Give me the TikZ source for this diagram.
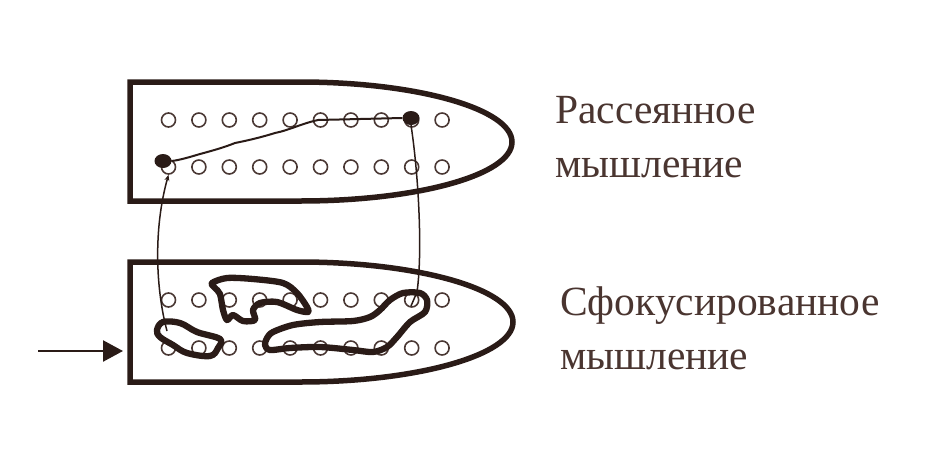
\documentclass[tikz,border=0pt]{standalone}
\usepackage{fontspec}
\setmainfont{Liberation Serif}
\usetikzlibrary{arrows.meta,shapes.geometric}
\definecolor{ink}{HTML}{2A1B17}
\definecolor{txt}{HTML}{4A3530}
\definecolor{ring}{HTML}{4A3834}
\tikzset{
  outline/.style={draw=ink,line width=5.5pt,line join=miter},
  blob/.style={draw=ink,line width=6.3pt,line join=round,line cap=round},
  ringnode/.style={circle,draw=ring,line width=1.6pt,minimum size=14pt,inner sep=0pt},
  spot/.style={ellipse,fill=ink,minimum width=17pt,minimum height=14pt,inner sep=0pt},
  thin/.style={draw=ink,line width=1.5pt},
  label/.style={anchor=base west,inner sep=0pt,text=txt,align=left,font=\fontsize{41.5}{54}\selectfont}
}
\begin{document}
\begin{tikzpicture}[x=1pt,y=-1pt]
\useasboundingbox (0,0) rectangle (926,472);
% shapes
\draw[outline] (130,82) -- (300,82) .. controls (417,82) and (512,109) .. (512,142)
  .. controls (512,175) and (417,201) .. (300,201) -- (130,201) -- cycle;
\draw[outline] (130,262) -- (300,262) .. controls (417,262) and (513,289) .. (513,322)
  .. controls (513,355) and (417,382) .. (300,382) -- (130,382) -- cycle;
% rings
\foreach \i in {1,...,10}{
  \pgfmathsetmacro{\xx}{168.5+30.4*(\i-1)}
  \node[ringnode] (a\i) at (\xx,120) {};
  \node[ringnode] (b\i) at (\xx,167) {};
  \node[ringnode] (c\i) at (\xx,300) {};
  \node[ringnode] (d\i) at (\xx,348) {};
}
% spots
\node[spot] (s1) at (163,161) {};
\node[spot] (s2) at (411,118) {};
% diffuse path
\draw[thin,line width=2pt] (s1.east) .. controls (180,160) and (190,157) .. (200,154)
  .. controls (215,150) and (225,147) .. (235,143)
  .. controls (250,140) and (262,137) .. (275,133)
  .. controls (290,130) and (300,124) .. (318,120) -- (s2.west);
% blobs
\draw[blob] plot[smooth cycle,tension=0.6] coordinates {(157,330) (163,322) (180,323) (197,332) (220,339) (218,348) (210,356) (187,353) (173,345) (160,337)};
\draw[blob] plot[smooth cycle,tension=0.5] coordinates {(212,283) (227,278) (253,279) (283,283) (297,293) (307,307) (308,312) (297,310) (277,302) (260,303) (253,310) (255,320) (243,321) (233,315) (227,320) (223,310) (220,294) (215,288)};
\draw[blob] plot[smooth cycle,tension=0.5] coordinates {(267,338) (273,332) (293,325) (320,322) (353,321) (370,317) (380,310) (390,300) (403,293) (420,293) (427,300) (425,312) (410,322) (397,337) (387,347) (373,352) (353,350) (320,347) (290,348) (270,350) (265,345)};
% connectors
\coordinate (lstart) at (167,331);
\draw[thin,-{Stealth[length=6pt,width=5pt]}] (lstart) .. controls (156,290) and (153,230) .. (b1.south);
\coordinate (rend) at (411,306);
\draw[thin] (s2.south) .. controls (418,170) and (423,250) .. (417,292) -- (rend);
% entry arrow
\coordinate (src) at (38,351);
\coordinate (entry) at (123,351);
\draw[draw=ink,line width=2.4pt,-{Triangle[length=20pt,width=21pt]}] (src) -- (entry);
% labels
\node[label] (t1) at (555,177) {Рассеянное\\мышление};
\node[label] (t2) at (560,369) {Сфокусированное\\мышление};
\end{tikzpicture}
\end{document}
